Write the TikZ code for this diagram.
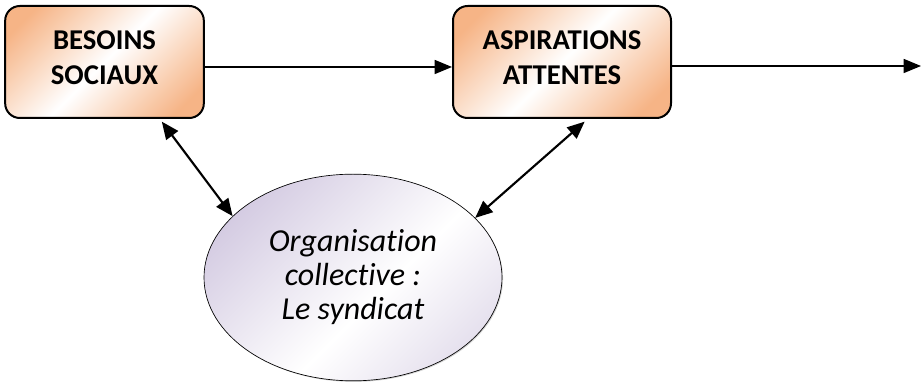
\documentclass[tikz,border=0pt]{standalone}
\usepackage{fontspec}
\setmainfont[Ligatures=NoCommon]{Carlito}
\usetikzlibrary{arrows.meta,shapes.geometric,shadows}

\definecolor{peach}{RGB}{246,180,134}
\definecolor{lavender}{RGB}{206,196,222}

% diagonal fades: tinted corners, white band across the middle
\pgfdeclarehorizontalshading{peachdiag}{100bp}{color(0bp)=(peach); color(22bp)=(peach); color(50bp)=(white); color(78bp)=(peach); color(100bp)=(peach)}
\pgfdeclarehorizontalshading{lavdiag}{100bp}{color(0bp)=(lavender); color(20bp)=(lavender); color(56bp)=(white); color(86bp)=(lavender!80); color(100bp)=(lavender!80)}

\tikzset{
  stage/.style={draw=black, line width=1.5pt, rounded corners=11pt,
    shading=peachdiag, shading angle=-45,
    minimum height=84pt},
  stagetext/.style={align=center, yshift=3pt,
    font=\fontsize{21.5}{26.5}\selectfont\bfseries},
  actor/.style={ellipse, draw=black, line width=0.5pt,
    shading=lavdiag, shading angle=-45,
    minimum width=223.5pt, minimum height=155pt, inner sep=0pt, align=center,
    drop shadow={shadow xshift=0.8pt, shadow yshift=-0.8pt, opacity=0.35},
    font=\fontsize{24}{25.5}\selectfont\itshape},
  flow/.style={line width=1.1pt, -{Triangle[length=13pt,width=10.5pt]}},
  link/.style={line width=1.6pt, {Triangle[length=13pt,width=11pt]}-{Triangle[length=13pt,width=11pt]}}
}

\begin{document}
\begin{tikzpicture}[x=0.75pt, y=-0.75pt]
  \useasboundingbox (0,0) rectangle (924,384);

  \node[stage, minimum width=149pt,
    label={[stagetext]center:BESOINS\\SOCIAUX}] (besoins) at (104.5,62) {};
  \node[stage, minimum width=163.5pt,
    label={[stagetext]center:ASPIRATIONS\\ATTENTES}] (aspirations) at (562,62) {};
  \node[actor] (syndicat) at (353,277.5) {Organisation\\collective :\\Le syndicat};
  \coordinate (suite) at (921,66);

  \draw[flow] ([yshift=-3.75pt]besoins.east) -- ([yshift=-3.75pt]aspirations.west);
  \draw[flow] ([yshift=-3pt]aspirations.east) -- (suite);

  \draw[link] ([xshift=43pt,yshift=-2pt]besoins.south) -- (syndicat.153);
  \draw[link] ([xshift=17pt,yshift=-2pt]aspirations.south) -- (syndicat.26);
\end{tikzpicture}
\end{document}
